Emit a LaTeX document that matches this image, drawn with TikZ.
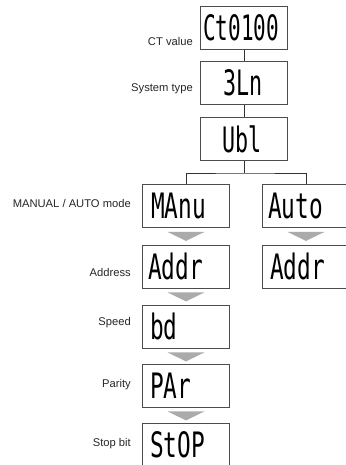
\documentclass[tikz,border=0pt]{standalone}
\usepackage{fontspec}
\setmainfont{Liberation Sans}
\newfontfamily\segfont{DejaVu Sans Mono}
\usetikzlibrary{calc}
\begin{document}
\begin{tikzpicture}[x=1pt,y=-1pt]
\useasboundingbox (0,0) rectangle (345,465);
\tikzset{
 disp/.style={draw=black!70, line width=0.8pt, minimum width=87pt, minimum height=43pt, inner sep=0pt},
 segtext/.style={anchor=west, inner sep=0pt, font=\segfont\fontsize{35}{35}\selectfont},
 lbl/.style={anchor=base east, inner sep=0pt, font=\fontsize{11.2}{13}\selectfont, text=black!85},
 conn/.style={draw=black!80, line width=0.9pt},
 tri/.style={fill=black!33, draw=none}
}
% display boxes
\node[disp] (ct)    at (244,28)    {};
\node[disp] (sys)   at (244,83)    {};
\node[disp] (ubl)   at (244,139)   {};
\node[disp] (manu)  at (186,206)   {};
\node[disp] (auto)  at (306,206)   {};
\node[disp] (addr1) at (186,266.5) {};
\node[disp] (addr2) at (306,266.5) {};
\node[disp] (bd)    at (186,326.5) {};
\node[disp] (par)   at (186,385.5) {};
\node[disp] (stop)  at (186,444.5) {};
% display texts
\node[segtext] (ctT)    at (203,28)    {\scalebox{0.6}[1]{Ct0100}};
\node[segtext] (sysT)   at (223,83)    {\scalebox{0.62}[1]{3Ln}};
\node[segtext] (ublT)   at (222,139)   {\scalebox{0.62}[1]{Ubl}};
\node[segtext] (manuT)  at (151,206)   {\scalebox{0.65}[1]{MAnu}};
\node[segtext] (autoT)  at (268,206)   {\scalebox{0.65}[1]{Auto}};
\node[segtext] (addr1T) at (148,266.5) {\scalebox{0.65}[1]{Addr}};
\node[segtext] (addr2T) at (270,266.5) {\scalebox{0.65}[1]{Addr}};
\node[segtext] (bdT)    at (150,326.5) {\scalebox{0.65}[1]{bd}};
\node[segtext] (parT)   at (150,385.5) {\scalebox{0.65}[1]{PAr}};
\node[segtext] (stopT)  at (150,444.5) {\scalebox{0.65}[1]{StOP}};
% labels
\node[lbl] (l1) at (193,46)  {CT value};
\node[lbl] (l2) at (193,92)  {System type};
\node[lbl] (l3) at (131,207) {MANUAL / AUTO mode};
\node[lbl] (l4) at (131,276) {Address};
\node[lbl] (l5) at (131,325.5) {Speed};
\node[lbl] (l6) at (131,387) {Parity};
\node[lbl] (l7) at (131,446) {Stop bit};
% connectors
\draw[conn] (ct.south) -- (sys.north);
\draw[conn] (sys.south) -- (ubl.north);
\coordinate (br) at (244,173);
\draw[conn] (ubl.south) -- (br);
\draw[conn] (manu.north) |- (br) -| (auto.north);
% arrows
\foreach \a in {manu, auto, addr1, bd, par}
  \fill[tri] ($(\a.south)+(-18.5,4)$) -- ($(\a.south)+(18.5,4)$) -- ($(\a.south)+(0,13)$) -- cycle;
\end{tikzpicture}
\end{document}
